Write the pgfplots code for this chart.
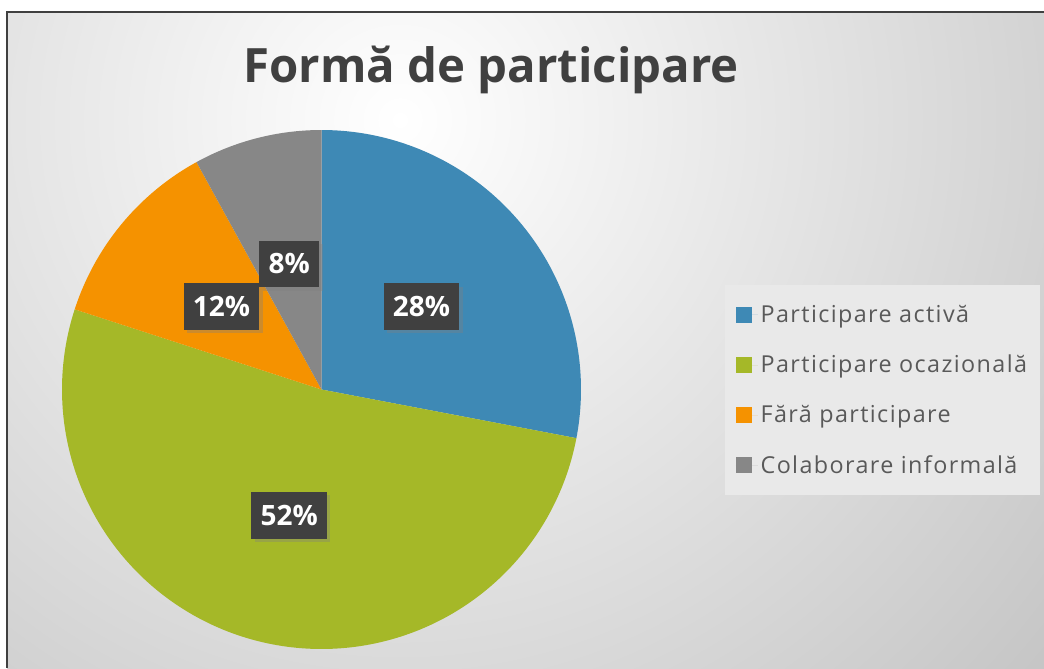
\documentclass[border=0pt]{standalone}
\usepackage{fontspec}
\setmainfont{Open Sans}
\newfontfamily\legfont[LetterSpace=6]{Open Sans}
\usepackage{pgfplots}
\pgfplotsset{compat=1.18}
\usepackage{pgfplotstable}
\usepgfplotslibrary{polar}
\usetikzlibrary{shadows}

\definecolor{cblue}{HTML}{3E89B5}
\definecolor{cgreen}{HTML}{A5B828}
\definecolor{corange}{HTML}{F59200}
\definecolor{cgray}{HTML}{878787}
\definecolor{boxgray}{HTML}{404040}
\definecolor{titlegray}{HTML}{404040}
\definecolor{legtext}{HTML}{595959}
\definecolor{legfill}{HTML}{E9E9E9}

% shares in percent, clockwise from 12 o'clock
\pgfplotstableread[col sep=comma]{
label,value
Participare activa,28
Participare ocazionala,52
Fara participare,12
Colaborare informala,8
}\piedata

\newcommand\getval[2]{\pgfplotstablegetelem{#1}{value}\of\piedata\let#2\pgfplotsretval}
\getval{0}\vA \getval{1}\vB \getval{2}\vC \getval{3}\vD
% slice edges (degrees) and label angles
\pgfmathsetmacro\aA{90}
\pgfmathsetmacro\aB{\aA-3.6*\vA}
\pgfmathsetmacro\aC{\aB-3.6*\vB}
\pgfmathsetmacro\aD{\aC-3.6*\vC}
\pgfmathsetmacro\aE{\aD-3.6*\vD}
\pgfmathsetmacro\mA{(\aA+\aB)/2}
\pgfmathsetmacro\mB{(\aB+\aC)/2}
\pgfmathsetmacro\mC{(\aC+\aD)/2}
\pgfmathsetmacro\mD{(\aD+\aE)/2}

\tikzset{pielabel/.style={anchor=center, fill=boxgray, text=white,
    font=\fontsize{21}{21}\selectfont\bfseries, inner xsep=7pt,
    minimum height=35pt,
    drop shadow={shadow xshift=2.5pt, shadow yshift=-2.5pt, opacity=0.35}}}

\begin{document}
\begin{tikzpicture}
\begin{scope}[x=0.75pt,y=0.75pt]
\useasboundingbox (0,0) rectangle (1044,668);
\fill[white] (0,0) rectangle (1044,668);
\begin{scope}
  \clip (7,0) rectangle (1044,656);
  \shade[inner color=white, outer color=black!24] (400,548) circle (900);
\end{scope}
\draw[black!75, line width=1.1pt] (7,0) -- (7,656) -- (1044,656);
\node[anchor=base, text=titlegray, font=\fontsize{35.5}{36}\selectfont\bfseries]
  at (491,585) {Formă de participare};
\end{scope}

\begin{polaraxis}[
  at={(241.125pt,208.875pt)}, anchor=center,
  scale only axis, width=389.25pt, height=389.25pt,
  hide axis, clip=false, enlargelimits=false,
  xmin=0, xmax=360, ymin=0, ymax=1,
  legend cell align=left,
  legend image code/.code={\fill[#1] (0pt,-6pt) rectangle (12pt,6pt);
    \path (0pt,0pt) -- (16.5pt,0pt);},
  legend style={at={(1.2775,0.7013)}, anchor=north west,
    draw=none, fill=legfill,
    font=\fontsize{17.5}{17.5}\legfont, text=legtext,
    inner xsep=8pt, inner ysep=13pt, row sep=19pt},
]
\addplot[fill=cblue, draw=none, domain=\aB:\aA, samples=120] {1} -- (0,0) -- cycle;
\addlegendentry{Participare activă}
\addplot[fill=cgreen, draw=none, domain=\aC:\aB, samples=180] {1} -- (0,0) -- cycle;
\addlegendentry{Participare ocazională}
\addplot[fill=corange, draw=none, domain=\aD:\aC, samples=60] {1} -- (0,0) -- cycle;
\addlegendentry{Fără participare}
\addplot[fill=cgray, draw=none, domain=\aE:\aD, samples=40] {1} -- (0,0) -- cycle;
\addlegendentry{Colaborare informală}

\addplot[forget plot, only marks, mark=*, mark size=0pt, draw=none,
  point meta=explicit symbolic,
  nodes near coords={\pgfplotspointmeta\%},
  nodes near coords style={pielabel}]
  coordinates {(\mA,0.5)[\vA] (\mB,0.5)[\vB] (\mC,0.5)[\vC] (\mD,0.5)[\vD]};
\end{polaraxis}
\end{tikzpicture}
\end{document}
